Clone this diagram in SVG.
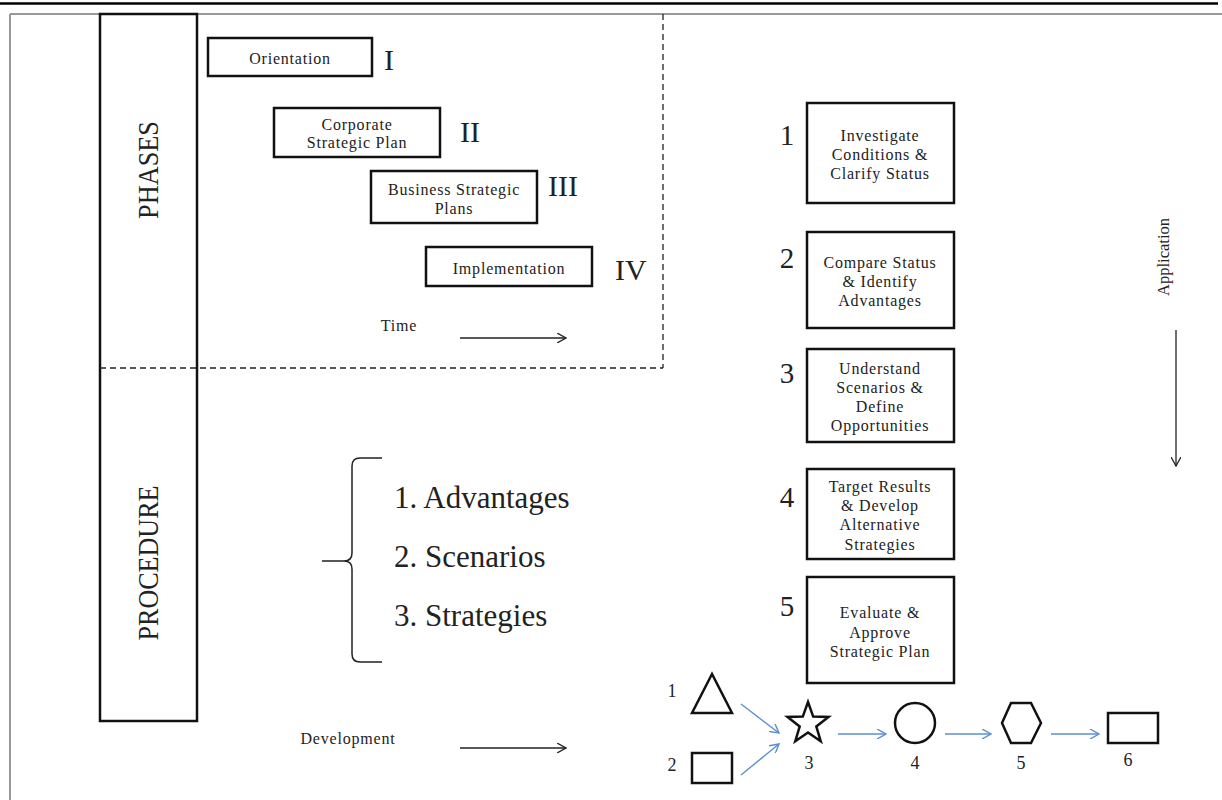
<svg xmlns="http://www.w3.org/2000/svg" width="1222" height="800" viewBox="0 0 1222 800">
<style>
  text { font-family: "Liberation Serif", "Times New Roman", serif; fill: #222; }
  .box { fill: #fff; stroke: #111; stroke-width: 2.5; }
  .bt { font-size: 16px; text-anchor: middle; letter-spacing: 0.8px; }
  .rn { font-size: 30px; }
  .num { font-size: 29px; text-anchor: middle; }
  .lst { font-size: 31px; }
  .dash { fill: none; stroke: #222; stroke-width: 1.3; stroke-dasharray: 6 4; }
  .arr { fill: none; stroke: #222; stroke-width: 1.3; }
  .blue { fill: none; stroke: #5b8fd0; stroke-width: 1.4; }
  .shape { fill: #fff; stroke: #111; stroke-width: 2.5; }
  .sl { font-size: 18px; text-anchor: middle; }
</style>
<defs>
  <marker id="ah" viewBox="0 0 10 10" refX="9" refY="5" markerWidth="10" markerHeight="10" markerUnits="userSpaceOnUse" orient="auto">
    <path d="M0,0 L9,5 L0,10" fill="none" stroke="#222" stroke-width="1.3"/>
  </marker>
  <marker id="ahb" viewBox="0 0 10 10" refX="9" refY="5" markerWidth="10" markerHeight="10" markerUnits="userSpaceOnUse" orient="auto">
    <path d="M0,0 L9,5 L0,10" fill="none" stroke="#5b8fd0" stroke-width="1.4"/>
  </marker>
</defs>
<rect width="1222" height="800" fill="#fff"/>
<!-- page frame -->
<line x1="0" y1="3.5" x2="1218" y2="3.5" stroke="#000" stroke-width="2.5"/>
<line x1="10" y1="14" x2="1222" y2="14" stroke="#999" stroke-width="2"/>
<line x1="10" y1="14" x2="10" y2="800" stroke="#999" stroke-width="2"/>

<!-- left column -->
<g id="column">
  <rect x="100" y="14" width="97" height="707" class="box"/>
  <text transform="translate(158,170) rotate(-90)" font-size="30" text-anchor="middle" textLength="98" lengthAdjust="spacingAndGlyphs">PHASES</text>
  <text transform="translate(158,563) rotate(-90)" font-size="30" text-anchor="middle" textLength="155" lengthAdjust="spacingAndGlyphs">PROCEDURE</text>
</g>

<!-- dashed phase region -->
<g id="phase-region">
  <line x1="100" y1="368" x2="663" y2="368" class="dash"/>
  <line x1="663" y1="14" x2="663" y2="368" class="dash"/>
</g>

<g id="orientation">
  <rect x="208" y="38" width="164" height="38" class="box"/>
  <text x="290" y="63.5" class="bt">Orientation</text>
  <text x="384" y="70" class="rn">I</text>
</g>
<g id="corporate">
  <rect x="274" y="108" width="166" height="49" class="box"/>
  <text x="357" y="129.5" class="bt">Corporate</text>
  <text x="357" y="147.5" class="bt">Strategic Plan</text>
  <text x="460" y="142" class="rn">II</text>
</g>
<g id="business">
  <rect x="371" y="171" width="166" height="52" class="box"/>
  <text x="454" y="194.5" class="bt">Business Strategic</text>
  <text x="454" y="213.5" class="bt">Plans</text>
  <text x="548" y="196" class="rn">III</text>
</g>
<g id="implementation">
  <rect x="426" y="247" width="166" height="39" class="box"/>
  <text x="509" y="273.5" class="bt">Implementation</text>
  <text x="615" y="280" class="rn">IV</text>
</g>
<g id="time">
  <text x="399" y="331" class="bt">Time</text>
</g>

<!-- procedure list -->
<g id="procedure-list">
  <path d="M382,458 L360,458 Q352,458 352,466 L352,553 Q352,561 344,561 L322,561 M344,561 Q352,561 352,569 L352,654 Q352,662 360,662 L382,662" fill="none" stroke="#222" stroke-width="1.5"/>
  <text x="394" y="508" class="lst">1. Advantages</text>
  <text x="394" y="567" class="lst">2. Scenarios</text>
  <text x="394" y="626" class="lst">3. Strategies</text>
</g>
<g id="development">
  <text x="348" y="744" class="bt">Development</text>
</g>

<!-- right step boxes -->
<g id="step1">
  <rect x="807" y="103" width="147" height="100" class="box"/>
  <text x="787" y="145" class="num">1</text>
  <text x="880" y="140.5" class="bt">Investigate</text>
  <text x="880" y="159.5" class="bt">Conditions &amp;</text>
  <text x="880" y="178.5" class="bt">Clarify Status</text>
</g>
<g id="step2">
  <rect x="807" y="232" width="147" height="96" class="box"/>
  <text x="787" y="268" class="num">2</text>
  <text x="880" y="267.5" class="bt">Compare Status</text>
  <text x="880" y="286.5" class="bt">&amp; Identify</text>
  <text x="880" y="305.5" class="bt">Advantages</text>
</g>
<g id="step3">
  <rect x="807" y="349" width="147" height="93" class="box"/>
  <text x="787" y="383" class="num">3</text>
  <text x="880" y="373.5" class="bt">Understand</text>
  <text x="880" y="392.5" class="bt">Scenarios &amp;</text>
  <text x="880" y="411.5" class="bt">Define</text>
  <text x="880" y="430.5" class="bt">Opportunities</text>
</g>
<g id="step4">
  <rect x="807" y="469" width="147" height="90" class="box"/>
  <text x="787" y="507" class="num">4</text>
  <text x="880" y="491.5" class="bt">Target Results</text>
  <text x="880" y="510.5" class="bt">&amp; Develop</text>
  <text x="880" y="529.5" class="bt">Alternative</text>
  <text x="880" y="549.5" class="bt">Strategies</text>
</g>
<g id="step5">
  <rect x="807" y="577" width="147" height="106" class="box"/>
  <text x="787" y="616" class="num">5</text>
  <text x="880" y="617.5" class="bt">Evaluate &amp;</text>
  <text x="880" y="637.5" class="bt">Approve</text>
  <text x="880" y="656.5" class="bt">Strategic Plan</text>
</g>
<g id="application">
  <text transform="translate(1169,257) rotate(-90)" font-size="16" text-anchor="middle" textLength="78" lengthAdjust="spacingAndGlyphs">Application</text>
</g>

<!-- bottom shape sequence -->
<g id="shape1">
  <polygon points="712,674 692,713 732,713" class="shape"/>
  <text x="672" y="697" class="sl">1</text>
</g>
<g id="shape2">
  <rect x="692" y="753" width="40" height="30" class="shape"/>
  <text x="672" y="771" class="sl">2</text>
</g>
<g id="shape3">
  <polygon points="808,702 813.2,716.6 828.5,717 816.3,726.4 820.7,741.2 808,732.4 795.3,741.2 799.7,726.4 787.5,717 802.8,716.6" class="shape"/>
  <text x="809" y="769" class="sl">3</text>
</g>
<g id="shape4">
  <circle cx="915" cy="723" r="20" class="shape"/>
  <text x="915" y="769" class="sl">4</text>
</g>
<g id="shape5">
  <polygon points="1011,703 1031,703 1041,723 1031,743 1011,743 1002,723" class="shape"/>
  <text x="1021" y="769" class="sl">5</text>
</g>
<g id="shape6">
  <rect x="1108" y="713" width="50" height="30" class="shape"/>
  <text x="1128" y="766" class="sl">6</text>
</g>

<!-- connectors -->
<g id="connectors">
  <line x1="460" y1="338" x2="566" y2="338" class="arr" marker-end="url(#ah)"/>
  <line x1="460" y1="748" x2="566" y2="748" class="arr" marker-end="url(#ah)"/>
  <line x1="1176" y1="330" x2="1176" y2="466" class="arr" marker-end="url(#ah)"/>
  <line x1="741" y1="704" x2="779" y2="733" class="blue" marker-end="url(#ahb)"/>
  <line x1="741" y1="775" x2="779" y2="744" class="blue" marker-end="url(#ahb)"/>
  <line x1="838" y1="734" x2="886" y2="734" class="blue" marker-end="url(#ahb)"/>
  <line x1="945" y1="734" x2="991" y2="734" class="blue" marker-end="url(#ahb)"/>
  <line x1="1051" y1="734" x2="1099" y2="734" class="blue" marker-end="url(#ahb)"/>
</g>
</svg>
